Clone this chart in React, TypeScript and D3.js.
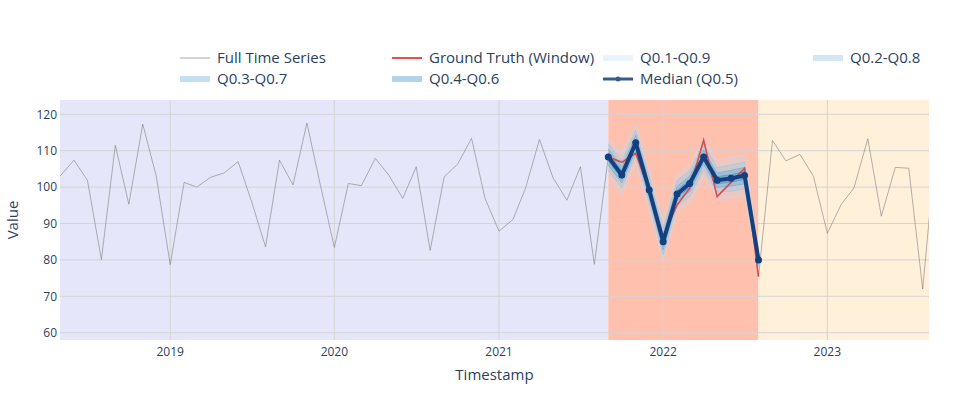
import React from "react";
import * as d3 from "d3";

// ---- Data ----
const fullStart = "2018-05-01";
const fullValues = [
  103.0, 107.4, 101.9, 80.1, 111.5, 95.3, 117.3, 103.0,
  78.7, 101.3, 100.0, 102.7, 103.9, 107.0, 96.0, 83.6, 107.4, 100.6, 117.6, 100.5,
  83.4, 101.0, 100.4, 107.9, 103.3, 96.9, 105.6, 82.6, 102.8, 106.3, 113.4, 96.9,
  87.9, 91.1, 99.7, 113.1, 102.6, 96.4, 105.6, 78.8,
  108.3, 107.0, 109.3, 99.0, 86.5, 95.1, 99.7, 112.9, 97.4, 101.3, 105.2, 75.4,
  112.8, 107.2, 109.0, 103.0, 87.3, 95.3, 99.7, 113.3, 92.0, 105.4, 105.2, 72.0, 113.5,
];
const windowStart = "2021-09-01";
const groundTruth = [108.3, 106.8, 109.3, 99.0, 86.5, 95.1, 99.7, 112.9, 97.4, 101.3, 105.2, 75.4];
const median = [108.3, 103.3, 112.2, 99.2, 85.0, 98.1, 101.0, 108.3, 101.9, 102.4, 103.2, 80.0];
const q10 = [102.8, 97.8, 106.8, 93.8, 79.5, 93.2, 95.6, 103.0, 96.8, 97.0, 97.6, 77.2];
const q90 = [113.8, 109.6, 117.4, 104.6, 90.6, 103.6, 106.2, 113.5, 107.4, 108.3, 108.8, 82.6];
const q20 = [104.6, 99.8, 108.7, 95.6, 81.4, 94.9, 97.4, 104.8, 98.6, 98.9, 99.5, 78.1];
const q80 = [111.9, 107.2, 115.6, 102.8, 88.7, 101.8, 104.4, 111.7, 105.4, 106.1, 106.9, 81.9];
const q30 = [106.0, 101.2, 110.1, 97.0, 82.8, 96.2, 98.8, 106.3, 99.9, 100.3, 100.9, 78.8];
const q70 = [110.5, 105.6, 114.2, 101.3, 87.2, 100.2, 103.0, 110.2, 103.9, 104.6, 105.4, 81.3];
const q40 = [107.2, 102.3, 111.2, 98.1, 84.0, 97.2, 99.9, 107.3, 100.9, 101.4, 102.1, 79.4];
const q60 = [109.4, 104.4, 113.2, 100.3, 86.1, 99.1, 102.0, 109.3, 102.9, 103.4, 104.3, 80.6];
const windowEnd = "2022-08-01";
const xRange = ["2018-05-01", "2023-08-15"];
const yRange = [58, 123.93];
const yTicks = [60, 70, 80, 90, 100, 110, 120];
const xTickYears = [2019, 2020, 2021, 2022, 2023];

const bands = [
  { name: "Q0.1-Q0.9", lo: q10, hi: q90, rgb: [198, 219, 239], alpha: 0.32 },
  { name: "Q0.2-Q0.8", lo: q20, hi: q80, rgb: [158, 202, 225], alpha: 0.45 },
  { name: "Q0.3-Q0.7", lo: q30, hi: q70, rgb: [107, 174, 214], alpha: 0.4 },
  { name: "Q0.4-Q0.6", lo: q40, hi: q60, rgb: [66, 146, 198], alpha: 0.4 },
];

const W = 969, H = 400;
const M = { l: 60, r: 40, t: 100, b: 60 };
const FONT = "'Open Sans', sans-serif";
const TXT = "#2a3f5f";
const MED = "rgb(20,64,128)";

const parse = d3.utcParse("%Y-%m-%d");
const months = (start: string, n: number) => {
  const s = parse(start)!;
  return d3.range(n).map((i) => d3.utcMonth.offset(s, i));
};

export default function App() {
  const x = d3.scaleUtc().domain(xRange.map((d) => parse(d)!)).range([M.l, W - M.r]);
  const y = d3.scaleLinear().domain(yRange).range([H - M.b, M.t]);
  const fullDates = months(fullStart, fullValues.length);
  const winDates = months(windowStart, median.length);
  const line = d3.line<[Date, number]>().x((d) => x(d[0])).y((d) => y(d[1]));
  const area = d3
    .area<[Date, number, number]>()
    .x((d) => x(d[0]))
    .y0((d) => y(d[1]))
    .y1((d) => y(d[2]));
  const zip = (v: number[], ds: Date[]) => v.map((val, i) => [ds[i], val] as [Date, number]);
  const top = M.t, bot = H - M.b, left = M.l, right = W - M.r;
  const ws = x(parse(windowStart)!), we = x(parse(windowEnd)!);
  const rgba = (c: number[], a: number) => `rgba(${c.join(",")},${a})`;

  const legendItems: { name: string; kind: string; col: number; row: number; band?: (typeof bands)[number] }[] = [
    { name: "Full Time Series", kind: "grey", col: 180, row: 58 },
    { name: "Ground Truth (Window)", kind: "red", col: 392, row: 58 },
    { name: bands[0].name, kind: "band", band: bands[0], col: 603, row: 58 },
    { name: bands[1].name, kind: "band", band: bands[1], col: 813, row: 58 },
    { name: bands[2].name, kind: "band", band: bands[2], col: 180, row: 79 },
    { name: bands[3].name, kind: "band", band: bands[3], col: 392, row: 79 },
    { name: "Median (Q0.5)", kind: "median", col: 603, row: 79 },
  ];

  return (
    <svg width={W} height={H} style={{ position: "absolute", left: 0, top: 0, background: "#fff" }} fontFamily={FONT}>
      <defs>
        <clipPath id="plotclip">
          <rect x={left} y={top} width={right - left} height={bot - top} />
        </clipPath>
      </defs>
      {/* background shading */}
      <rect x={left} y={top} width={ws - left} height={bot - top} fill="#e6e6fa" />
      <rect x={ws} y={top} width={we - ws} height={bot - top} fill="#ffc0ad" />
      <rect x={we} y={top} width={right - we} height={bot - top} fill="#fff0da" />
      {/* grid */}
      {yTicks.map((t) => (
        <line key={"gy" + t} x1={left} x2={right} y1={y(t)} y2={y(t)} stroke="#d4d4d4" strokeWidth={1} />
      ))}
      {xTickYears.map((yr) => {
        const xx = x(new Date(Date.UTC(yr, 0, 1)));
        return <line key={"gx" + yr} x1={xx} x2={xx} y1={top} y2={bot} stroke="#d4d4d4" strokeWidth={1} />;
      })}
      <g clipPath="url(#plotclip)">
        <path d={line(zip(fullValues, fullDates)) || ""} fill="none" stroke="rgba(128,128,128,0.6)" strokeWidth={1} />
        {bands.map((b) => {
          const pts = b.lo.map((v, i) => [winDates[i], v, b.hi[i]] as [Date, number, number]);
          const sc = rgba(b.rgb, Math.min(1, b.alpha + 0.3));
          return (
            <g key={b.name}>
              <path d={area(pts) || ""} fill={rgba(b.rgb, b.alpha)} stroke="none" />
              <path d={line(zip(b.lo, winDates)) || ""} fill="none" stroke={sc} strokeWidth={0.9} />
              <path d={line(zip(b.hi, winDates)) || ""} fill="none" stroke={sc} strokeWidth={0.9} />
            </g>
          );
        })}
        <path d={line(zip(groundTruth, winDates)) || ""} fill="none" stroke="rgba(235,45,45,0.8)" strokeWidth={1.6} />
        <path d={line(zip(median, winDates)) || ""} fill="none" stroke={MED} strokeWidth={4} strokeLinejoin="round" />
        {median.map((v, i) => (
          <circle key={"m" + i} cx={x(winDates[i])} cy={y(v)} r={3.5} fill={MED} />
        ))}
      </g>
      {/* axes labels */}
      {yTicks.map((t) => (
        <text key={"ty" + t} x={left - 3} y={y(t)} dy="0.35em" textAnchor="end" fontSize={12} fill={TXT}>
          {t}
        </text>
      ))}
      {xTickYears.map((yr) => (
        <text key={"tx" + yr} x={x(new Date(Date.UTC(yr, 0, 1)))} y={356} textAnchor="middle" fontSize={12} fill={TXT}>
          {yr}
        </text>
      ))}
      <text x={(left + right) / 2} y={380} textAnchor="middle" fontSize={15} fill={TXT}>
        Timestamp
      </text>
      <text transform={`translate(18,${(top + bot) / 2}) rotate(-90)`} textAnchor="middle" fontSize={15} fill={TXT}>
        Value
      </text>
      {/* legend */}
      {legendItems.map((it) => {
        let sw: React.ReactNode = null;
        if (it.kind === "grey")
          sw = <line x1={it.col} x2={it.col + 30} y1={it.row} y2={it.row} stroke="rgba(128,128,128,0.45)" strokeWidth={1.5} />;
        else if (it.kind === "red")
          sw = <line x1={it.col} x2={it.col + 30} y1={it.row} y2={it.row} stroke="rgba(235,45,45,0.85)" strokeWidth={2} />;
        else if (it.kind === "band" && it.band)
          sw = <rect x={it.col} y={it.row - 3} width={30} height={6} fill={rgba(it.band.rgb, it.band.alpha)} />;
        else
          sw = (
            <g>
              <line x1={it.col} x2={it.col + 30} y1={it.row} y2={it.row} stroke="rgb(58,90,140)" strokeWidth={3} />
              <circle cx={it.col + 15} cy={it.row} r={2.5} fill="rgb(58,90,140)" />
            </g>
          );
        return (
          <g key={it.name}>
            {sw}
            <text x={it.col + 37} y={it.row} dy="0.35em" fontSize={15} fill={TXT}>
              {it.name}
            </text>
          </g>
        );
      })}
    </svg>
  );
}
